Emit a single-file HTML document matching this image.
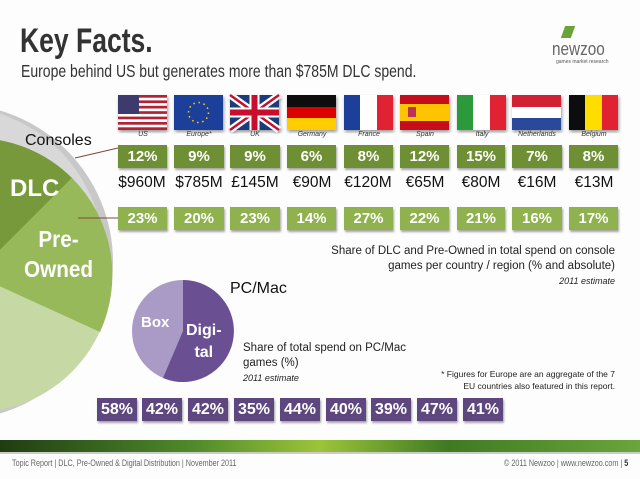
<!DOCTYPE html>
<html><head><meta charset="utf-8"><style>
*{margin:0;padding:0;box-sizing:border-box}
body{width:640px;height:479px;background:#fdfdfd;position:relative;overflow:hidden;font-family:"Liberation Sans",sans-serif;color:#222}
.a{position:absolute;white-space:nowrap}
.b{position:absolute;color:#fff;font-weight:bold;font-size:15px;text-align:center;line-height:23px;height:23px;box-shadow:1px 2px 2px rgba(0,0,0,.35)}
.g1{background:#6f8f35}.g2{background:#8fb24e}.p{background:#5e477f;width:40px;font-size:16px}
.lbl{position:absolute;font-size:7px;font-style:italic;color:#333;text-align:center;width:50px}
.m{position:absolute;font-size:15.5px;text-align:center;width:56px;color:#111}
</style></head><body>
<svg class="a" style="left:0;top:0" width="640" height="479">
<circle cx="-45" cy="262" r="158" fill="#c8c8c8"/>
<circle cx="-48" cy="258" r="152" fill="#d8d8d8"/>
<circle cx="-25" cy="275" r="137" fill="#c6d9a5"/>
<path d="M-25 275 L-25 138 A137 137 0 0 1 72 178 Z" fill="#78993b"/>
<path d="M-25 275 L72 178 A137 137 0 0 1 100 332 Z" fill="#98b95a"/>
<line x1="75" y1="158" x2="118" y2="148" stroke="#7a4a3a" stroke-width="1"/>
<line x1="78" y1="218" x2="118" y2="218" stroke="#7a4a3a" stroke-width="1"/>
<circle cx="183" cy="331" r="51" fill="#a99bc6"/>
<path d="M183 331 L183 280 A51 51 0 1 1 163 378 Z" fill="#6a5093"/>
<defs><linearGradient id="gb" x1="0" x2="1"><stop offset="0" stop-color="#1f3d12"/><stop offset=".3" stop-color="#4f8a2a"/><stop offset=".5" stop-color="#9cc43a"/><stop offset=".7" stop-color="#3f7a22"/><stop offset="1" stop-color="#6aa63a"/></linearGradient></defs>
<rect x="0" y="440" width="640" height="12" fill="url(#gb)"/>
<rect x="0" y="452" width="640" height="2" fill="#999" opacity=".5"/>
</svg>
<div class="a" style="left:20px;top:22px;font-size:34px;font-weight:bold;color:#333;transform:scaleX(0.78);transform-origin:left">Key Facts.</div>
<div class="a" style="left:21px;top:61px;font-size:17.5px;color:#333;transform:scaleX(0.8);transform-origin:left">Europe behind US but generates more than $785M DLC spend.</div>
<div class="a" style="left:552px;top:39px;font-size:18px;color:#666;transform:scaleX(0.85);transform-origin:left">newzoo</div>
<div class="a" style="left:563px;top:26px;width:10px;height:12px;background:#6aa33a;transform:skewX(-20deg)"></div>
<div class="a" style="left:556px;top:59px;font-size:5px;color:#555">games market research</div>
<div class="a" style="left:25px;top:132px;font-size:16px;color:#111">Consoles</div>
<div class="a" style="left:10px;top:175px;font-size:24px;font-weight:bold;color:#fff">DLC</div>
<div class="a" style="left:24px;top:224px;font-size:23px;font-weight:bold;color:#fff;line-height:30px;text-align:center;transform:scaleX(0.9);transform-origin:left">Pre-<br>Owned</div>
<div class="a" style="left:141px;top:314px;font-size:15px;font-weight:bold;color:#fff">Box</div>
<div class="a" style="left:186px;top:320px;font-size:16px;font-weight:bold;color:#fff;line-height:22px;text-align:center">Digi-<br>tal</div>
<div class="a" style="left:230px;top:280px;font-size:16px;color:#111">PC/Mac</div>
<div class="a" style="right:25px;top:244px;font-size:11.5px;text-align:right;line-height:15px;color:#222">Share of DLC and Pre-Owned in total spend on console<br>games per country / region (% and absolute)<br><i style="font-size:9px">2011 estimate</i></div>
<div class="a" style="left:243px;top:341px;font-size:11.5px;line-height:15px;color:#222">Share of total spend on PC/Mac<br>games (%)<br><i style="font-size:9px;line-height:12px">2011 estimate</i></div>
<div class="a" style="right:25px;top:368px;font-size:8.5px;text-align:right;line-height:12px;color:#222">* Figures for Europe are an aggregate of the 7<br>EU countries also featured in this report.</div>
<div class="a" style="left:12px;top:458px;font-size:9px;color:#666;transform:scaleX(0.8);transform-origin:left">Topic Report | DLC, Pre-Owned &amp; Digital Distribution | November 2011</div>
<div class="a" style="right:12px;top:458px;font-size:9px;color:#666;transform:scaleX(0.8);transform-origin:right">© 2011 Newzoo | www.newzoo.com | <b style="color:#333">5</b></div>

<svg class="a" style="left:0;top:0" width="640" height="140">
<defs><filter id="sh"><feDropShadow dx="1" dy="2" stdDeviation="1.5" flood-opacity=".4"/></filter></defs>
<g filter="url(#sh)">
<g transform="translate(118,95)"><rect width="49" height="35" fill="#fff"/><g fill="#b22234"><rect y="0" width="49" height="2.7"/><rect y="5.4" width="49" height="2.7"/><rect y="10.8" width="49" height="2.7"/><rect y="16.2" width="49" height="2.7"/><rect y="21.6" width="49" height="2.7"/><rect y="27" width="49" height="2.7"/><rect y="32.3" width="49" height="2.7"/></g><rect width="21" height="19" fill="#3c3b6e"/></g>
<g transform="translate(174,95)"><rect width="49" height="35" fill="#1f3f9a"/><circle cx="24.5" cy="17.5" r="10" fill="none" stroke="#fc0" stroke-width="1.5" stroke-dasharray="1.5 3.7"/></g>
<g transform="translate(230,95)"><rect width="49" height="35" fill="#1d3a7a"/><path d="M0 0L49 35M49 0L0 35" stroke="#fff" stroke-width="7"/><path d="M0 0L49 35M49 0L0 35" stroke="#c8102e" stroke-width="2.5"/><path d="M24.5 0V35M0 17.5H49" stroke="#fff" stroke-width="10"/><path d="M24.5 0V35M0 17.5H49" stroke="#c8102e" stroke-width="6"/></g>
<g transform="translate(287,95)"><rect width="49" height="12" fill="#111"/><rect y="12" width="49" height="11" fill="#d00"/><rect y="23" width="49" height="12" fill="#fc0"/></g>
<g transform="translate(344,95)"><rect width="16" height="35" fill="#1f3f9a"/><rect x="16" width="17" height="35" fill="#fff"/><rect x="33" width="16" height="35" fill="#e02030"/></g>
<g transform="translate(400,95)"><rect width="49" height="35" fill="#c60b1e"/><rect y="9" width="49" height="17" fill="#ffc400"/><rect x="8" y="12" width="8" height="10" fill="#b35"/></g>
<g transform="translate(457,95)"><rect width="16" height="35" fill="#2a9a3a"/><rect x="16" width="17" height="35" fill="#fff"/><rect x="33" width="16" height="35" fill="#e02030"/></g>
<g transform="translate(512,95)"><rect width="49" height="12" fill="#d02030"/><rect y="12" width="49" height="11" fill="#fff"/><rect y="23" width="49" height="12" fill="#2a4a9a"/></g>
<g transform="translate(569,95)"><rect width="16" height="35" fill="#111"/><rect x="16" width="17" height="35" fill="#fd0"/><rect x="33" width="16" height="35" fill="#e02030"/></g>
</g></svg>

<div class="lbl" style="left:118px;top:131px">US</div>
<div class="lbl" style="left:174px;top:131px">Europe*</div>
<div class="lbl" style="left:230px;top:131px">UK</div>
<div class="lbl" style="left:287px;top:131px">Germany</div>
<div class="lbl" style="left:344px;top:131px">France</div>
<div class="lbl" style="left:400px;top:131px">Spain</div>
<div class="lbl" style="left:457px;top:131px">Italy</div>
<div class="lbl" style="left:512px;top:131px">Netherlands</div>
<div class="lbl" style="left:569px;top:131px">Belgium</div>

<div class="b g1" style="left:118px;top:145px;width:49px">12%</div>
<div class="b g1" style="left:174px;top:145px;width:50px">9%</div>
<div class="b g1" style="left:230px;top:145px;width:50px">9%</div>
<div class="b g1" style="left:287px;top:145px;width:49px">6%</div>
<div class="b g1" style="left:344px;top:145px;width:49px">8%</div>
<div class="b g1" style="left:400px;top:145px;width:49px">12%</div>
<div class="b g1" style="left:457px;top:145px;width:48px">15%</div>
<div class="b g1" style="left:512px;top:145px;width:50px">7%</div>
<div class="b g1" style="left:569px;top:145px;width:49px">8%</div>

<div class="m" style="left:114px;top:174px">$960M</div>
<div class="m" style="left:171px;top:174px">$785M</div>
<div class="m" style="left:227px;top:174px">£145M</div>
<div class="m" style="left:284px;top:174px">€90M</div>
<div class="m" style="left:340px;top:174px">€120M</div>
<div class="m" style="left:397px;top:174px">€65M</div>
<div class="m" style="left:453px;top:174px">€80M</div>
<div class="m" style="left:509px;top:174px">€16M</div>
<div class="m" style="left:566px;top:174px">€13M</div>

<div class="b g2" style="left:118px;top:207px;width:49px">23%</div>
<div class="b g2" style="left:174px;top:207px;width:50px">20%</div>
<div class="b g2" style="left:230px;top:207px;width:50px">23%</div>
<div class="b g2" style="left:287px;top:207px;width:49px">14%</div>
<div class="b g2" style="left:344px;top:207px;width:49px">27%</div>
<div class="b g2" style="left:400px;top:207px;width:49px">22%</div>
<div class="b g2" style="left:457px;top:207px;width:48px">21%</div>
<div class="b g2" style="left:512px;top:207px;width:50px">16%</div>
<div class="b g2" style="left:569px;top:207px;width:49px">17%</div>

<div class="b p" style="left:97px;top:398px">58%</div>
<div class="b p" style="left:142px;top:398px">42%</div>
<div class="b p" style="left:188px;top:398px">42%</div>
<div class="b p" style="left:234px;top:398px">35%</div>
<div class="b p" style="left:280px;top:398px">44%</div>
<div class="b p" style="left:326px;top:398px">40%</div>
<div class="b p" style="left:371px;top:398px">39%</div>
<div class="b p" style="left:417px;top:398px">47%</div>
<div class="b p" style="left:463px;top:398px">41%</div>
</body></html>
